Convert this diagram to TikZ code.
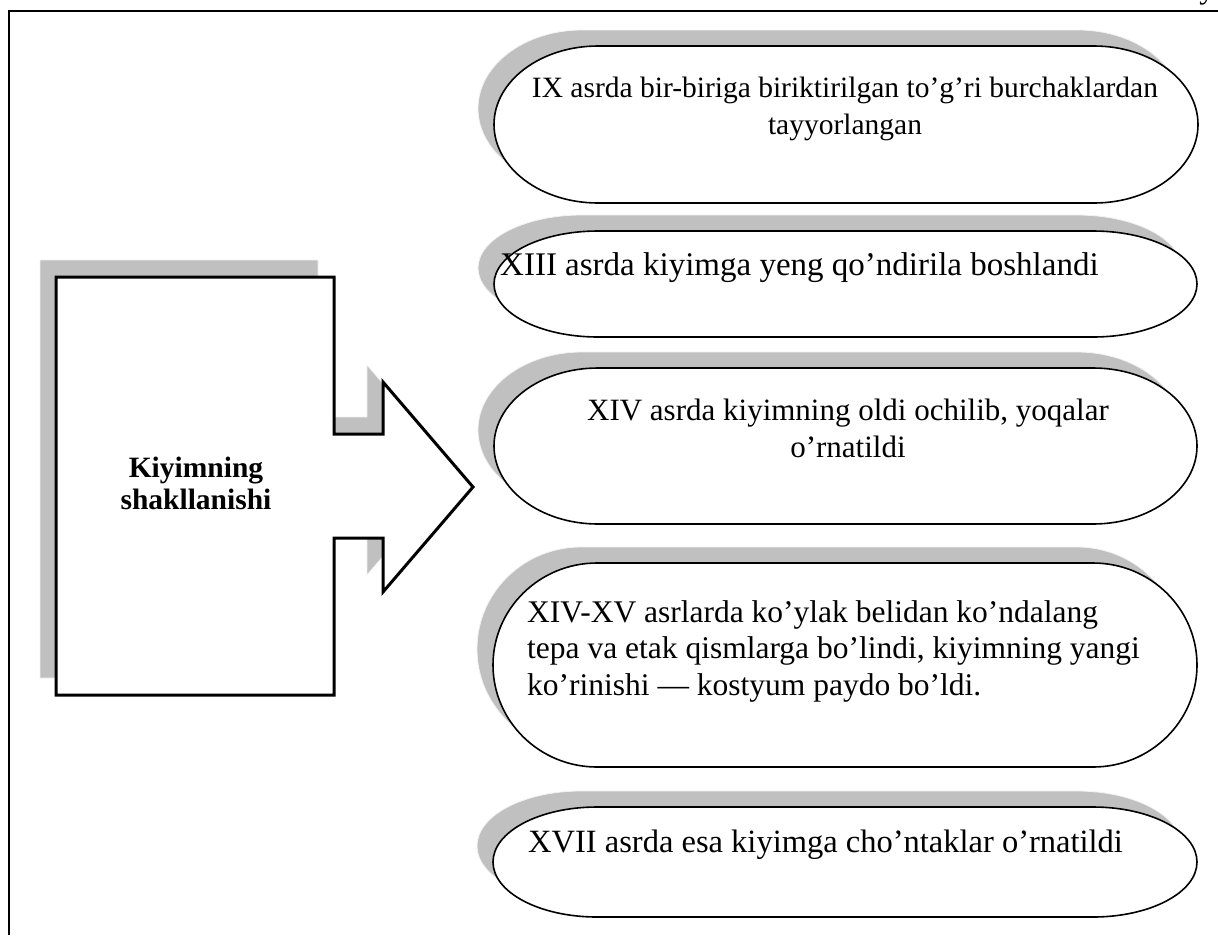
\documentclass[tikz,border=0pt]{standalone}
\usepackage{fontspec}
\setmainfont{Liberation Serif}
\definecolor{shadowgray}{HTML}{C0C0C0}
\tikzset{
  shadowfill/.style={fill=shadowgray, draw=white!80!shadowgray, line width=0.8pt},
  termline/.style={draw=black, fill=white, line width=1.6pt},
  arrowline/.style={draw=black, fill=white, line width=3pt, line join=miter},
  frameline/.style={draw=black, line width=2pt},
  etext/.style={inner sep=0pt, font=\fontsize{31}{37}\selectfont},
  btext/.style={inner sep=0pt, font=\fontsize{29.5}{32}\selectfont\bfseries, align=center},
}
% stadium with elliptical ends: #1=x0 #2=y0 #3=x1 #4=y1
\newcommand{\stadiumpath}[4]{%
  (#1+104,#2) -- (#3-104,#2)
  arc[start angle=-90, end angle=90, x radius=104, y radius={(#4-#2)/2}]
  -- (#1+104,#4)
  arc[start angle=90, end angle=270, x radius=104, y radius={(#4-#2)/2}]
  -- cycle}
\newcommand{\termshape}[4]{%
  \path[shadowfill, shift={(-16,-16)}] \stadiumpath{#1}{#2}{#3}{#4};
  \path[termline] \stadiumpath{#1}{#2}{#3}{#4};}
\newcommand{\arrowpath}{%
  (56,277) -- (334,277) -- (334,434) -- (383,434) -- (383,382) -- (473,487)
  -- (383,592) -- (383,538) -- (334,538) -- (334,695) -- (56,695) -- cycle}
\begin{document}
\begin{tikzpicture}[x=1pt, y=-1pt]
\useasboundingbox (0,0) rectangle (1218,935);
% page frame
\coordinate (fbl) at (9,935);
\coordinate (ftl) at (9,11);
\coordinate (ftr) at (1218,11);
\draw[frameline] (fbl) -- (ftl) -- (ftr);
\node[etext, anchor=base] (pagey) at (1207,-2) {y};
% big arrow box
\path[shadowfill, shift={(-16,-17)}] \arrowpath;
\path[arrowline] \arrowpath;
\node[btext, anchor=base] (title) at (196,509) {Kiyimning\\shakllanishi};
% terminator shapes
\termshape{494}{46}{1198}{203}
\termshape{494}{231}{1197}{337}
\termshape{494}{368}{1197}{524}
\termshape{493}{563}{1197}{767}
\termshape{493}{807}{1197}{917}
\node[etext, font=\fontsize{29.5}{37}\selectfont, align=center, anchor=base] (t1) at (845,134) {IX asrda bir-biriga biriktirilgan to’g’ri burchaklardan\\tayyorlangan};
\node[etext, font=\fontsize{33}{37}\selectfont, anchor=base west] (t2) at (500,275) {XIII asrda kiyimga yeng qo’ndirila boshlandi};
\node[etext, align=center, anchor=base] (t3) at (848,457) {XIV asrda kiyimning oldi ochilib, yoqalar\\o’rnatildi};
\node[etext, font=\fontsize{31.5}{36.5}\selectfont, align=left, anchor=base west] (t4) at (527,695) {XIV-XV asrlarda ko’ylak belidan ko’ndalang\\tepa va etak qismlarga bo’lindi, kiyimning yangi\\ko’rinishi — kostyum paydo bo’ldi.};
\node[etext, font=\fontsize{32.5}{37}\selectfont, anchor=base west] (t5) at (528,852) {XVII asrda esa kiyimga cho’ntaklar o’rnatildi};
\end{tikzpicture}
\end{document}
